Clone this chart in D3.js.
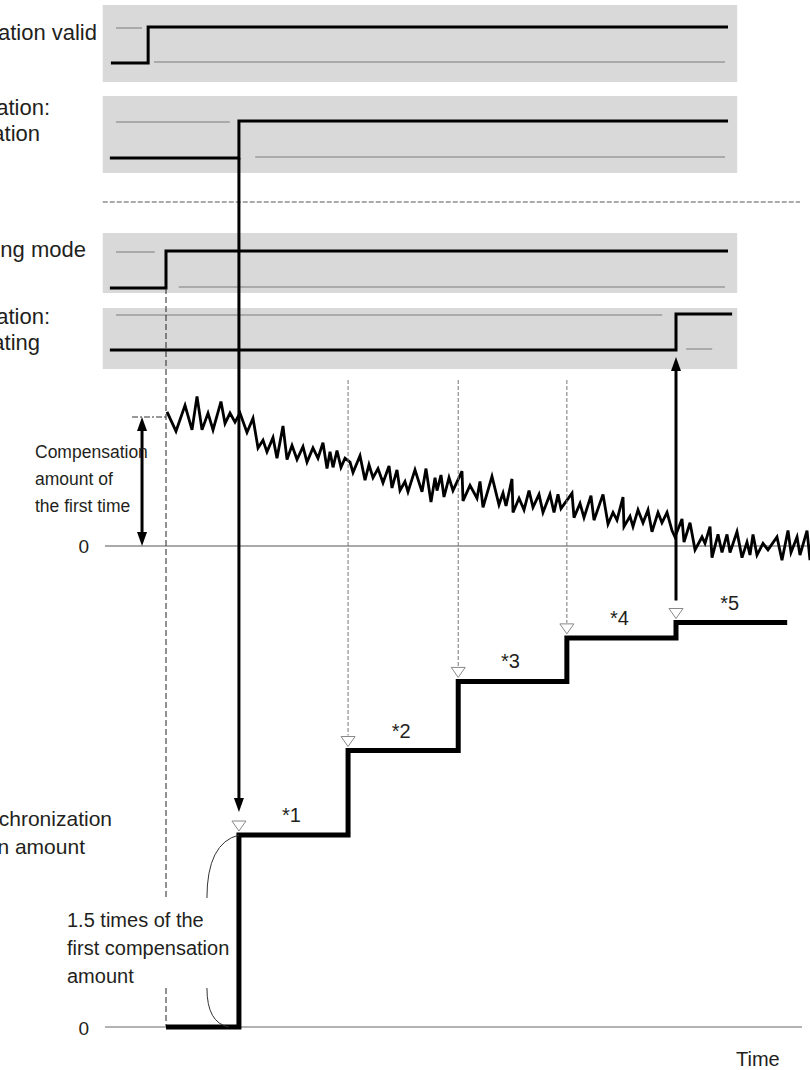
<!DOCTYPE html>
<html>
<head>
<meta charset="utf-8">
<script src="https://cdn.jsdelivr.net/npm/d3@7"></script>
<style>
body { margin: 0; background: #fff; }
text { font-family: "Liberation Sans", Arial, sans-serif; fill: #231f20; }
</style>
</head>
<body>
<svg id="chart" width="810" height="1070"></svg>
<script>
// time units: 0 = synchronizing mode starts, 100 = calculation complete
var eventTimes = [0, 14.3, 35.7, 57.3, 78.6, 100];
var stepLevels = [0, 1.5, 2.16, 2.70, 3.04, 3.16];
var stepEnd = 121.8;
var stepLabels = ["*1", "*2", "*3", "*4", "*5"];

// measured deviation (1 = compensation amount of the first time)
var waveTime = [0.2, 1.96, 3.73, 5.1, 6.08, 7.06, 8.24, 9.22, 10.78, 11.57, 12.55, 13.53, 14.51, 15.88, 17.06, 18.04, 19.02, 19.8, 20.98, 21.76,
  22.94, 23.73, 24.71, 25.69, 26.86, 27.65, 28.82, 29.8, 30.78, 31.57, 32.16, 32.75, 33.53, 34.31, 35.1, 36.08, 36.67, 38.04, 39.02, 39.8,
  40.59, 41.57, 42.55, 43.73, 44.31, 45.29, 45.88, 46.86, 47.45, 48.82, 50.2, 50.98, 51.96, 52.75, 53.14, 53.92, 54.51, 55.49, 56.27, 58.04,
  58.24, 59.61, 60.98, 61.57, 62.16, 63.92, 65.29, 66.08, 66.67, 67.84, 68.04, 69.22, 70.2, 71.18, 71.96, 73.14, 73.92, 75.29, 76.08, 76.86,
  77.45, 79.61, 80.0, 81.18, 81.96, 83.33, 83.92, 85.69, 86.67, 87.65, 88.43, 89.61, 89.8, 90.98, 91.57, 92.55, 93.53, 94.51, 95.29, 96.47,
  97.25, 98.24, 99.22, 99.8, 101.18, 101.57, 102.75, 103.73, 105.1, 105.69, 106.67, 107.06, 108.24, 109.02, 110.0, 110.59, 111.96, 112.94, 113.92, 114.51,
  115.1, 115.88, 117.06, 118.04, 119.8, 120.78, 121.96, 122.55, 123.73, 124.31, 125.69, 126.27];
var waveValue = [1.04, 0.89, 1.09, 0.90, 1.16, 0.90, 1.03, 0.90, 1.12, 0.95, 1.03, 0.96, 1.03, 0.88, 0.99, 0.76, 0.82, 0.73, 0.84, 0.68,
  0.93, 0.67, 0.78, 0.67, 0.77, 0.65, 0.76, 0.68, 0.80, 0.60, 0.73, 0.61, 0.74, 0.61, 0.68, 0.65, 0.57, 0.70, 0.51, 0.63,
  0.53, 0.60, 0.49, 0.62, 0.45, 0.59, 0.43, 0.50, 0.42, 0.59, 0.42, 0.60, 0.34, 0.53, 0.43, 0.55, 0.38, 0.53, 0.43, 0.58,
  0.35, 0.47, 0.37, 0.50, 0.30, 0.54, 0.32, 0.41, 0.31, 0.52, 0.26, 0.37, 0.28, 0.43, 0.30, 0.40, 0.26, 0.40, 0.26, 0.40,
  0.29, 0.41, 0.22, 0.33, 0.22, 0.39, 0.20, 0.40, 0.17, 0.26, 0.20, 0.38, 0.15, 0.23, 0.15, 0.28, 0.18, 0.28, 0.11, 0.26,
  0.18, 0.26, 0.12, 0.07, 0.21, 0.03, 0.18, -0.03, 0.07, 0.02, 0.15, -0.09, 0.09, -0.05, 0.09, -0.05, 0.11, -0.09, 0.03, -0.07,
  0.09, -0.07, 0.02, -0.03, 0.07, -0.11, 0.12, -0.05, 0.07, -0.07, 0.12, -0.11];

// signal panels: label lines, time of rising edge
var signalLabels = [["Phase compensation valid"], ["Phase compensation:", "During compensation"],
  ["Synchronizing mode"], ["Phase compensation:", "Calculating"]];
var signalRise = [-3.5, 14.3, 0, 100];
var signalStart = [-10.8, -11, -11, -11];
var signalEnd = [110.2, 110.2, 110.2, 111];
// thin grey lines showing the opposite level: [from, to, level]
var signalGuides = [
  [[-9.8, -4.7, 1], [-2.35, 109.6, 0]],
  [[-9.8, 12.5, 1], [17.5, 109.6, 0]],
  [[-9.8, -2.2, 1], [2.5, 109.6, 0]],
  [[-9.8, 97.3, 1], [102, 107.1, 0]]
];

var svg = d3.select("#chart");
var xScale = d3.scaleLinear().domain([0, 100]).range([166, 676]);
var yWave = d3.scaleLinear().domain([0, 1]).range([546, 417]);
var ySync = d3.scaleLinear().domain([0, 1]).range([1027, 899]);

// panel layout (pixels)
var panelBox = [{top: 5, h: 77, hi: 27, lo: 63}, {top: 96, h: 77, hi: 121, lo: 158},
  {top: 233, h: 60, hi: 251, lo: 288}, {top: 308, h: 61, hi: 314, lo: 350}];
var labelLayout = [{ends: [97], ys: [40]}, {ends: [50, 40], ys: [115, 141]},
  {ends: [86], ys: [257]}, {ends: [50, 40], ys: [324, 350]}];

function arrowHead(x, y, dir) {
  // dir = 1 points down, -1 points up; y is the tip
  return "M" + x + "," + y + "L" + (x - 5) + "," + (y - dir * 14) + "L" + (x + 5) + "," + (y - dir * 14) + "Z";
}

panelBox.forEach(function(p, i) {
  var yLev = d3.scaleLinear().domain([0, 1]).range([p.lo, p.hi]);
  var g = svg.append("g");
  g.append("rect")
    .attr("x", xScale(-12.4)).attr("y", p.top)
    .attr("width", xScale(112) - xScale(-12.4)).attr("height", p.h)
    .attr("fill", "#d9d9d9");
  signalGuides[i].forEach(function(s) {
    g.append("line")
      .attr("x1", xScale(s[0])).attr("x2", xScale(s[1]))
      .attr("y1", yLev(s[2]) + (s[2] ? 1 : -1)).attr("y2", yLev(s[2]) + (s[2] ? 1 : -1))
      .attr("stroke", "#9a9a9a").attr("stroke-width", 1.5);
  });
  var pts = [[signalStart[i], 0], [signalRise[i], 1], [signalEnd[i], 1]];
  g.append("path")
    .attr("d", d3.line().curve(d3.curveStepAfter)
      .x(function(d) { return xScale(d[0]); })
      .y(function(d) { return yLev(d[1]); })(pts))
    .attr("fill", "none").attr("stroke", "#000").attr("stroke-width", 3);

  signalLabels[i].forEach(function(t, k) {
    svg.append("text")
      .attr("x", labelLayout[i].ends[k]).attr("y", labelLayout[i].ys[k])
      .attr("text-anchor", "end").attr("font-size", 22)
      .text(t);
  });
});

// separator
svg.append("line")
  .attr("x1", xScale(-12.4)).attr("x2", 800).attr("y1", 202).attr("y2", 202)
  .attr("stroke", "#555").attr("stroke-width", 1).attr("stroke-dasharray", "5,2");

// mode start dashed line
svg.append("line")
  .attr("x1", xScale(0)).attr("x2", xScale(0)).attr("y1", 288).attr("y2", 900)
  .attr("stroke", "#222").attr("stroke-width", 1).attr("stroke-dasharray", "6,3");
svg.append("line")
  .attr("x1", xScale(0)).attr("x2", xScale(0)).attr("y1", 988).attr("y2", ySync(0))
  .attr("stroke", "#222").attr("stroke-width", 1).attr("stroke-dasharray", "6,3");

// zero lines
svg.append("line")
  .attr("x1", 105).attr("x2", 810).attr("y1", yWave(0)).attr("y2", yWave(0))
  .attr("stroke", "#555").attr("stroke-width", 1);
svg.append("line")
  .attr("x1", 105).attr("x2", 802).attr("y1", ySync(0)).attr("y2", ySync(0))
  .attr("stroke", "#999").attr("stroke-width", 1.5);

// first-time level reference
svg.append("line")
  .attr("x1", 132).attr("x2", xScale(0)).attr("y1", yWave(1)).attr("y2", yWave(1))
  .attr("stroke", "#333").attr("stroke-width", 1).attr("stroke-dasharray", "6,2,2,2");

// waveform
var waveData = waveTime.map(function(t, i) { return [t, waveValue[i]]; });
svg.append("path")
  .attr("d", d3.line().x(function(d) { return xScale(d[0]); }).y(function(d) { return yWave(d[1]); })(waveData))
  .attr("fill", "none").attr("stroke", "#000").attr("stroke-width", 2.8).attr("stroke-linejoin", "miter");

// double arrow: compensation amount of the first time
var xa = xScale(-4.7);
svg.append("line").attr("x1", xa).attr("x2", xa).attr("y1", yWave(1) + 12).attr("y2", yWave(0) - 12)
  .attr("stroke", "#000").attr("stroke-width", 3);
svg.append("path").attr("d", arrowHead(xa, yWave(1), -1));
svg.append("path").attr("d", arrowHead(xa, yWave(0), 1));

// dashed drop lines and hollow triangles
eventTimes.forEach(function(t, i) {
  if (i === 0) return;
  var x = xScale(t), yl = ySync(stepLevels[i]);
  if (i >= 2 && i <= 4) {
    svg.append("line").attr("x1", x).attr("x2", x).attr("y1", 380).attr("y2", yl - 15)
      .attr("stroke", "#777").attr("stroke-width", 1).attr("stroke-dasharray", "4,2");
  }
  svg.append("path")
    .attr("d", "M" + (x - 7) + "," + (yl - 14) + "L" + (x + 7) + "," + (yl - 14) + "L" + x + "," + (yl - 4) + "Z")
    .attr("fill", "#fff").attr("stroke", "#888").attr("stroke-width", 1);
});

// arrow from "during compensation" to first step
var x1 = xScale(eventTimes[1]);
svg.append("line").attr("x1", x1).attr("x2", x1).attr("y1", panelBox[1].lo).attr("y2", ySync(stepLevels[1]) - 30)
  .attr("stroke", "#000").attr("stroke-width", 3);
svg.append("path").attr("d", arrowHead(x1, ySync(stepLevels[1]) - 23, 1));

// arrow from last step up to "calculating"
var x5 = xScale(eventTimes[5]);
svg.append("line").attr("x1", x5).attr("x2", x5).attr("y1", ySync(stepLevels[5]) - 22).attr("y2", panelBox[3].lo + 16)
  .attr("stroke", "#000").attr("stroke-width", 3);
svg.append("path").attr("d", arrowHead(x5, panelBox[3].lo + 7, -1));

// synchronization compensation amount steps
var stepData = eventTimes.map(function(t, i) { return [t, stepLevels[i]]; });
stepData.push([stepEnd, stepLevels[stepLevels.length - 1]]);
svg.append("path")
  .attr("d", d3.line().curve(d3.curveStepAfter)
    .x(function(d) { return xScale(d[0]); }).y(function(d) { return ySync(d[1]); })(stepData))
  .attr("fill", "none").attr("stroke", "#000").attr("stroke-width", 5).attr("stroke-linejoin", "miter");

stepLabels.forEach(function(lab, i) {
  var end = i < 4 ? eventTimes[i + 2] : stepEnd;
  svg.append("text")
    .attr("x", (xScale(eventTimes[i + 1]) + xScale(end)) / 2 - 2)
    .attr("y", ySync(stepLevels[i + 1]) - 13)
    .attr("text-anchor", "middle").attr("font-size", 20)
    .text(lab);
});

// bracket for the 1.5 times height
var bx = xScale(eventTimes[1]);
svg.append("path")
  .attr("d", "M" + bx + "," + ySync(1.5) + "Q" + (bx - 32) + "," + (ySync(1.5) + 8) + " " + (bx - 32) + "," + 898)
  .attr("fill", "none").attr("stroke", "#333").attr("stroke-width", 1);
svg.append("path")
  .attr("d", "M" + (bx - 32) + "," + 988 + "Q" + (bx - 32) + "," + (ySync(0) - 4) + " " + (bx - 10) + "," + ySync(0))
  .attr("fill", "none").attr("stroke", "#333").attr("stroke-width", 1);

// texts
function lines(arr, x, y0, dy, size, anchor) {
  arr.forEach(function(t, i) {
    svg.append("text").attr("x", x).attr("y", y0 + i * dy)
      .attr("font-size", size).attr("text-anchor", anchor || "start").text(t);
  });
}
lines(["Compensation", "amount of", "the first time"], 35, 458, 27, 17.5);
lines(["1.5 times of the", "first compensation", "amount"], 67, 927, 28, 20);
svg.append("text").attr("x", 112).attr("y", 826).attr("font-size", 21).attr("text-anchor", "end").text("Phase synchronization");
svg.append("text").attr("x", 85).attr("y", 854).attr("font-size", 21).attr("text-anchor", "end").text("compensation amount");
svg.append("text").attr("x", 89).attr("y", yWave(0) + 7).attr("font-size", 19).attr("text-anchor", "end").text("0");
svg.append("text").attr("x", 89).attr("y", ySync(0) + 8).attr("font-size", 19).attr("text-anchor", "end").text("0");
svg.append("text").attr("x", 736).attr("y", 1066).attr("font-size", 20).text("Time");
</script>
</body>
</html>
